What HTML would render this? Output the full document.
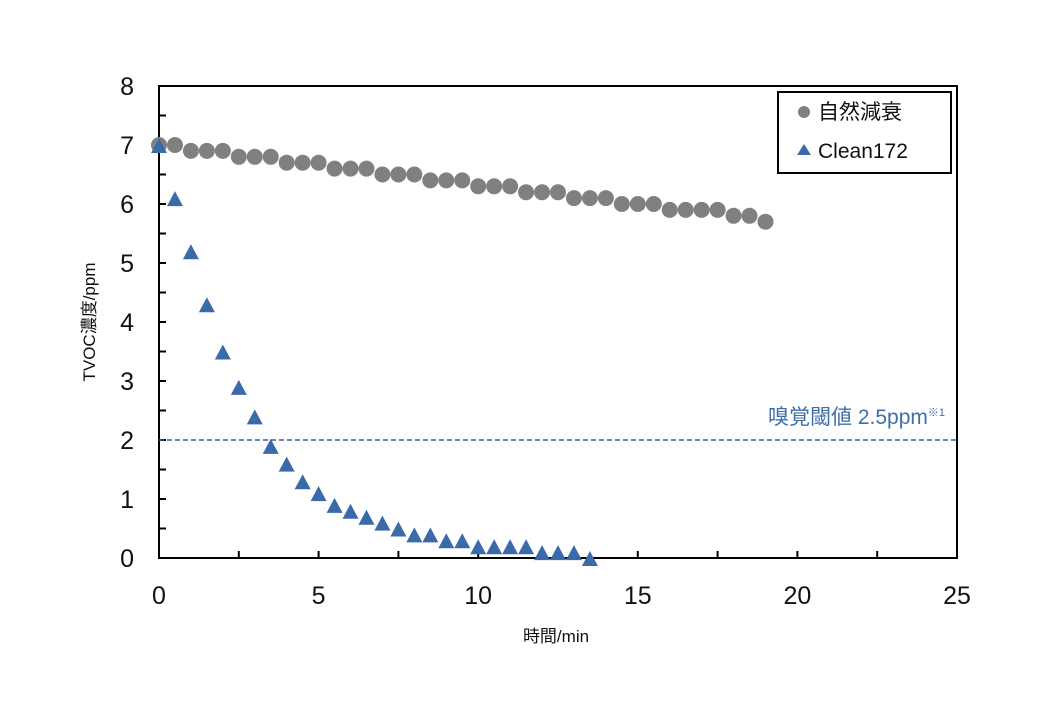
<!DOCTYPE html>
<html><head><meta charset="utf-8"><style>
body{margin:0;background:#fff}
svg{display:block}
text{font-family:"Liberation Sans","Noto Sans CJK JP",sans-serif}
</style></head><body>
<svg width="1050" height="720" viewBox="0 0 1050 720" xmlns="http://www.w3.org/2000/svg">
<rect width="1050" height="720" fill="#fff"/>
<rect x="159" y="86" width="798" height="472" fill="none" stroke="#000" stroke-width="2"/>
<g stroke="#000" stroke-width="2" id="ticks"></g>
<line x1="159" y1="440" x2="957" y2="440" stroke="#2f5f9e" stroke-width="1.5" stroke-dasharray="5,3"/>
<text x="945" y="424" font-size="21" fill="#3f6fa6" text-anchor="end">嗅覚閾値 2.5ppm<tspan font-size="11" dy="-8">※1</tspan></text>
<g id="pts"></g>
<g font-size="25" fill="#111" text-anchor="end" id="ylab"></g>
<g font-size="25" fill="#111" text-anchor="middle" id="xlab"></g>
<text transform="translate(95,322) rotate(-90)" font-size="17" text-anchor="middle" fill="#111">TVOC濃度/ppm</text>
<text x="556" y="642" font-size="17" text-anchor="middle" fill="#111">時間/min</text>
<rect x="778" y="92" width="173" height="81" fill="#fff" stroke="#000" stroke-width="2"/>
<circle cx="804" cy="112" r="6" fill="#808080"/>
<text x="818" y="119" font-size="21" fill="#111">自然減衰</text>
<polygon points="804,144 811,155 797,155" fill="#3a6aa8"/>
<text x="818" y="158" font-size="21" fill="#111">Clean172</text>
</svg>
<script>
const ns="http://www.w3.org/2000/svg";
const X=v=>159+v*31.92, Y=v=>558-v*59;
function el(t,a,p){const e=document.createElementNS(ns,t);for(const k in a)e.setAttribute(k,a[k]);if(p)document.getElementById(p).appendChild(e);return e;}
for(let v=0.5;v<8;v+=0.5) el('line',{x1:159,x2:166,y1:Y(v),y2:Y(v)},'ticks');
for(let v=2.5;v<25;v+=2.5) el('line',{x1:X(v),x2:X(v),y1:558,y2:551},'ticks');
for(let v=0;v<=8;v++){const t=el('text',{x:134,y:Y(v)+9},'ylab');t.textContent=v;}
for(let v=0;v<=25;v+=5){const t=el('text',{x:X(v),y:604},'xlab');t.textContent=v;}
const g=[7.0,7.0,6.9,6.9,6.9,6.8,6.8,6.8,6.7,6.7,6.7,6.6,6.6,6.6,6.5,6.5,6.5,6.4,6.4,6.4,6.3,6.3,6.3,6.2,6.2,6.2,6.1,6.1,6.1,6.0,6.0,6.0,5.9,5.9,5.9,5.9,5.8,5.8,5.7];
g.forEach((v,i)=>el('circle',{cx:X(i*0.5),cy:Y(v),r:8,fill:'#808080'},'pts'));
const b=[7.0,6.1,5.2,4.3,3.5,2.9,2.4,1.9,1.6,1.3,1.1,0.9,0.8,0.7,0.6,0.5,0.4,0.4,0.3,0.3,0.2,0.2,0.2,0.2,0.1,0.1,0.1,0.0];
b.forEach((v,i)=>{const x=X(i*0.5),y=Y(v)+1;el('polygon',{points:`${x},${y-8} ${x+8},${y+7} ${x-8},${y+7}`,fill:'#3a6aa8'},'pts');});
</script>
</body></html>
